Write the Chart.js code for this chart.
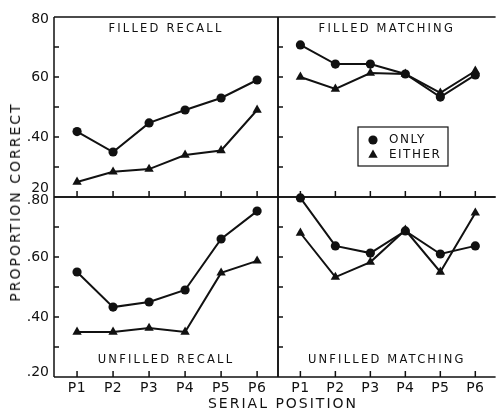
<!DOCTYPE html>
<html>
<head>
<meta charset="utf-8">
<script src="https://cdn.jsdelivr.net/npm/chart.js@4/dist/chart.umd.min.js"></script>
<style>
    body { margin: 0; background: #fff; }
    #wrap { position: relative; width: 501px; height: 412px; overflow: hidden; background: #fff; }
    #wrap canvas { position: absolute; left: 0; top: 0; }
    .axis-title {
        position: absolute;
        font: 14px "DejaVu Sans";
        letter-spacing: 2px;
        color: #111;
        white-space: nowrap;
        transform: translate(-50%, -50%);
    }
    #ytitle { left: 15px; top: 202px; transform: translate(-50%, -50%) rotate(-90deg); }
    #xtitle { left: 283px; top: 403px; }
</style>
</head>
<body>
<div id="wrap">
    <canvas id="filledRecall" width="501" height="412"></canvas>
    <canvas id="filledMatching" width="501" height="412"></canvas>
    <canvas id="unfilledRecall" width="501" height="412"></canvas>
    <canvas id="unfilledMatching" width="501" height="412"></canvas>
    <div class="axis-title" id="ytitle">PROPORTION CORRECT</div>
    <div class="axis-title" id="xtitle">SERIAL POSITION</div>
</div>
<script>
const positions = ['P1', 'P2', 'P3', 'P4', 'P5', 'P6'];
const yTickValues = [0.2, 0.3, 0.4, 0.5, 0.6, 0.7, 0.8];
const topYTickLabels = ['20', '', '.40', '', '60', '', '80'];
const bottomYTickLabels = ['.20', '', '.40', '', '.60', '', '.80'];

const filledRecallOnly = [0.418, 0.35, 0.447, 0.49, 0.53, 0.59];
const filledRecallEither = [0.25, 0.284, 0.293, 0.34, 0.355, 0.49];
const filledMatchingOnly = [0.707, 0.643, 0.643, 0.61, 0.533, 0.607];
const filledMatchingEither = [0.60, 0.56, 0.613, 0.61, 0.547, 0.62];
const unfilledRecallOnly = [0.55, 0.433, 0.45, 0.49, 0.66, 0.753];
const unfilledRecallEither = [0.35, 0.35, 0.363, 0.35, 0.547, 0.587];
const unfilledMatchingOnly = [0.797, 0.637, 0.613, 0.687, 0.61, 0.637];
const unfilledMatchingEither = [0.68, 0.533, 0.583, 0.69, 0.55, 0.747];

const ink = '#111';
const W = 501, H = 412;

Chart.defaults.font.family = '"DejaVu Sans"';
Chart.defaults.color = ink;

// frame, inward tick marks, tick labels, panel title and (optionally) the legend box
const panelDecor = {
    id: 'panelDecor',
    afterDraw(chart, args, opts) {
        const {ctx, chartArea: a, scales} = chart;
        ctx.save();
        ctx.strokeStyle = ink;
        ctx.lineWidth = 1.5;
        ctx.beginPath();
        ctx.moveTo(a.left, a.top); ctx.lineTo(a.right, a.top);
        ctx.moveTo(a.left, a.top); ctx.lineTo(a.left, a.bottom);
        ctx.moveTo(a.left, a.bottom); ctx.lineTo(a.right, a.bottom);
        if (opts.rightSide) {
            ctx.moveTo(a.right, a.top); ctx.lineTo(a.right, a.bottom);
        }
        yTickValues.forEach(v => {
            let py = scales.y.getPixelForValue(v);
            ctx.moveTo(a.left, py); ctx.lineTo(a.left + 5, py);
        });
        positions.forEach((p, i) => {
            let px = scales.x.getPixelForValue(i);
            ctx.moveTo(px, a.bottom); ctx.lineTo(px, a.bottom - 6);
        });
        ctx.stroke();

        ctx.fillStyle = ink;
        ctx.textBaseline = 'middle';

        if (opts.yLabels) {
            ctx.font = '14px "DejaVu Sans"';
            ctx.letterSpacing = '0px';
            ctx.textAlign = 'right';
            yTickValues.forEach((v, i) => {
                let label = opts.yLabels[i];
                if (!label) return;
                let nudge = (opts.yNudge && opts.yNudge[i]) || 0;
                ctx.fillText(label, a.left - 5, scales.y.getPixelForValue(v) + nudge);
            });
        }

        if (opts.xLabels) {
            ctx.font = '14px "DejaVu Sans"';
            ctx.letterSpacing = '0.5px';
            ctx.textAlign = 'center';
            positions.forEach((p, i) => {
                ctx.fillText(p, scales.x.getPixelForValue(i), a.bottom + 11);
            });
        }

        ctx.font = '11.5px "DejaVu Sans"';
        ctx.letterSpacing = '2.2px';
        ctx.textAlign = 'center';
        let ty = opts.titleAt === 'top' ? a.top + 12 : a.bottom - 17;
        ctx.fillText(opts.title, (a.left + a.right) / 2, ty);

        if (opts.legend) {
            let lg = opts.legend;
            let lx = a.left + lg.x, ly = a.top + lg.y;
            ctx.lineWidth = 1.2;
            ctx.strokeRect(lx, ly, lg.w, lg.h);
            ctx.font = '12px "DejaVu Sans"';
            ctx.letterSpacing = '1.5px';
            ctx.textAlign = 'left';
            chart.data.datasets.forEach((ds, i) => {
                let rowY = ly + 13 + i * 15;
                ctx.fillStyle = ink;
                Chart.helpers.drawPoint(ctx, {
                    pointStyle: ds.pointStyle,
                    radius: ds.pointRadius,
                    borderWidth: 0,
                    rotation: 0
                }, lx + 15, rowY);
                ctx.fillText(ds.label, lx + 31, rowY);
            });
        }
        ctx.restore();
    }
};

function makePanel(canvasId, only, either, p) {
    let lineStyle = {
        borderColor: ink,
        backgroundColor: ink,
        pointBackgroundColor: ink,
        pointBorderWidth: 0,
        borderWidth: 2,
        tension: 0
    };

    return new Chart(document.getElementById(canvasId), {
        type: 'line',
        data: {
            datasets: [
                Object.assign({
                    label: 'ONLY',
                    data: only.map((v, i) => ({x: i, y: v})),
                    pointStyle: 'circle',
                    pointRadius: 4.6
                }, lineStyle),
                Object.assign({
                    label: 'EITHER',
                    data: either.map((v, i) => ({x: i, y: v})),
                    pointStyle: 'triangle',
                    pointRadius: 5.4
                }, lineStyle)
            ]
        },
        options: {
            responsive: false,
            animation: false,
            devicePixelRatio: 1,
            clip: false,
            layout: {
                padding: {
                    left: p.area.left,
                    top: p.area.top,
                    right: W - p.area.right,
                    bottom: H - p.area.bottom
                }
            },
            plugins: {
                legend: {display: false},
                tooltip: {enabled: false},
                panelDecor: p.decor
            },
            scales: {
                x: {type: 'linear', min: -0.64, max: 5.58, display: false},
                y: {type: 'linear', min: 0.2, max: 0.8, display: false}
            }
        },
        plugins: [panelDecor]
    });
}

makePanel('filledRecall', filledRecallOnly, filledRecallEither, {
    area: {left: 54, top: 17, right: 278, bottom: 197},
    decor: {
        title: 'FILLED RECALL',
        titleAt: 'top',
        rightSide: true,
        yLabels: topYTickLabels,
        yNudge: {0: -9, 6: 2}
    }
});

makePanel('filledMatching', filledMatchingOnly, filledMatchingEither, {
    area: {left: 278, top: 17, right: 501, bottom: 197},
    decor: {
        title: 'FILLED MATCHING',
        titleAt: 'top',
        rightSide: false,
        legend: {x: 80, y: 110, w: 90, h: 39}
    }
});

makePanel('unfilledRecall', unfilledRecallOnly, unfilledRecallEither, {
    area: {left: 54, top: 197, right: 278, bottom: 377},
    decor: {
        title: 'UNFILLED RECALL',
        titleAt: 'bottom',
        rightSide: true,
        yLabels: bottomYTickLabels,
        yNudge: {0: -5, 6: 3},
        xLabels: true
    }
});

makePanel('unfilledMatching', unfilledMatchingOnly, unfilledMatchingEither, {
    area: {left: 278, top: 197, right: 501, bottom: 377},
    decor: {
        title: 'UNFILLED MATCHING',
        titleAt: 'bottom',
        rightSide: false,
        xLabels: true
    }
});
</script>
</body>
</html>
